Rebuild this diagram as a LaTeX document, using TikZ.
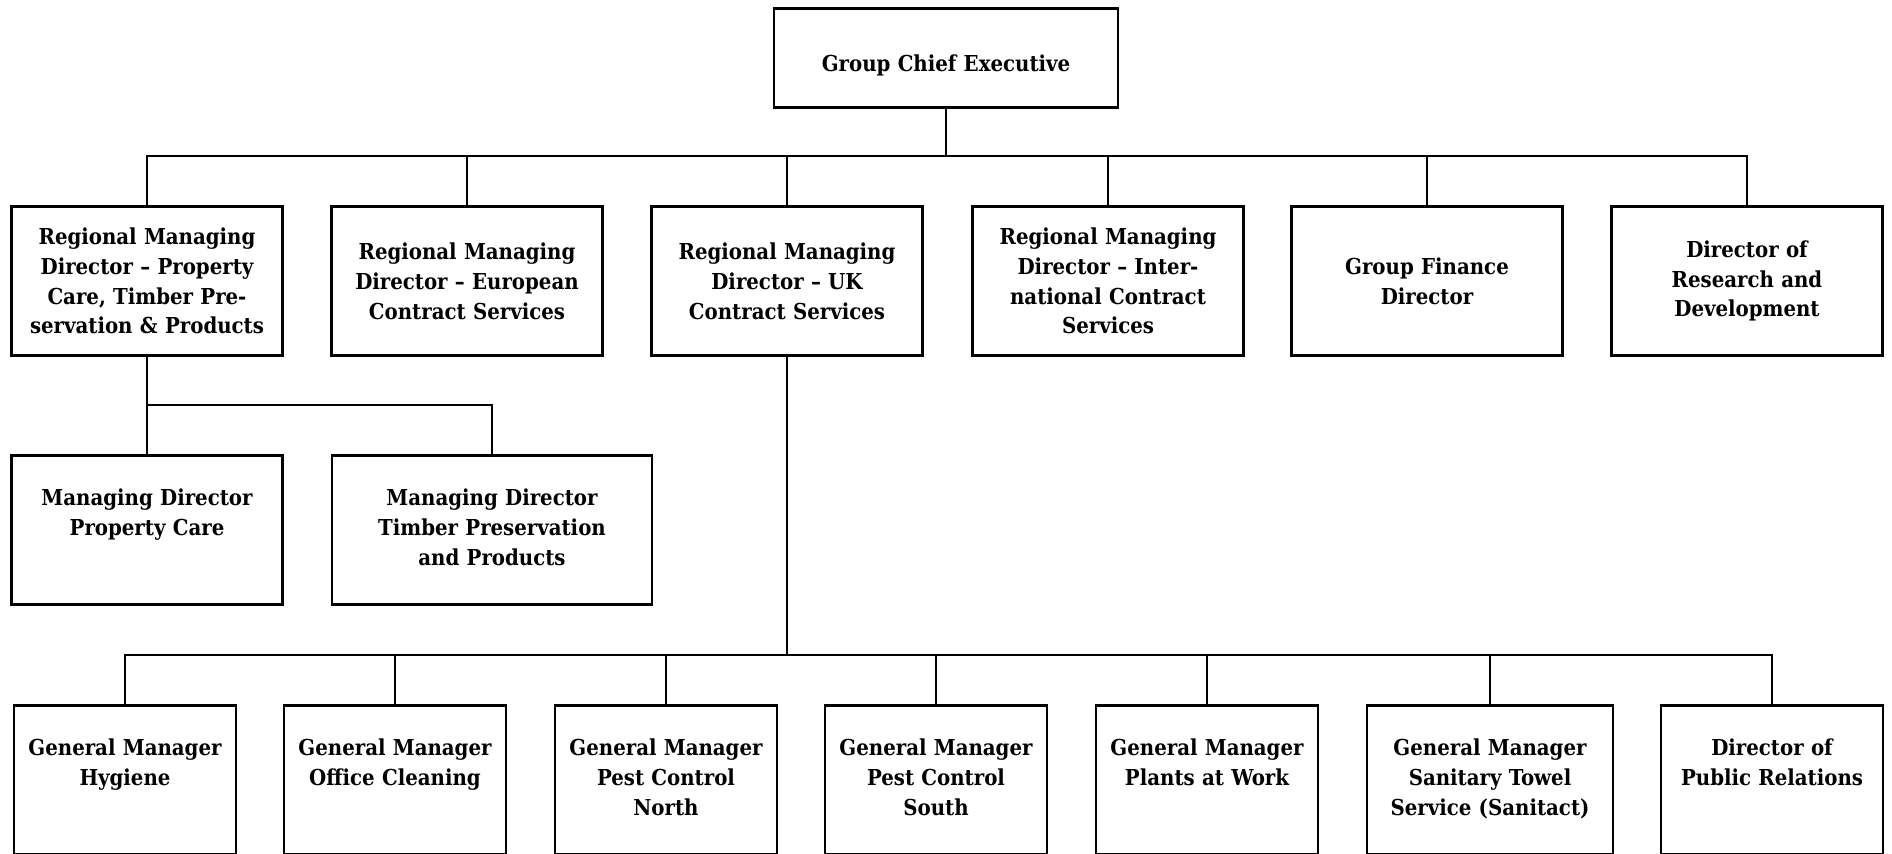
\documentclass[tikz,border=0pt]{standalone}
\usepackage{fontspec}
\setmainfont{DejaVuSerifCondensed-Bold.ttf}

\begin{document}
\begin{tikzpicture}[x=0.02cm,y=-0.02cm]
\tikzstyle{chief} = [rectangle, draw, line width=1.5pt, text width=6.88cm, align=center,
text height=1.26cm, text depth=0.72cm, inner sep=0pt, anchor=north, font=\fontsize{12.5}{17}\selectfont]
\tikzstyle{director} = [rectangle, draw, line width=1.5pt, text width=5.2cm, align=center,
minimum width=5.42cm, minimum height=2.98cm, inner sep=0pt, font=\fontsize{12.5}{17}\selectfont]
\tikzstyle{manager} = [rectangle, draw, line width=1.5pt, text width=4.44cm, align=center,
text height=1.0cm, text depth=1.98cm, inner sep=0pt, anchor=north, font=\fontsize{12.5}{17}\selectfont]
\tikzstyle{wire} = [draw, line width=1.5pt]
\useasboundingbox (0,0) rectangle (1892,853);
% top
\node [chief] (gce) at (946,7) {Group Chief Executive};
% row 1
\node [director] (rmdPTP) at (147,281) {Regional Managing\\Director -- Property\\Care, Timber Pre-\\servation \& Products};
\node [director] (rmdECS) at (467,281) {Regional Managing\\Director -- European\\Contract Services};
\node [director] (rmdUK) at (787,281) {Regional Managing\\Director -- UK\\Contract Services};
\node [director] (rmdICS) at (1108,281) {Regional Managing\\Director -- Inter-\\national Contract\\Services};
\node [director] (gfd) at (1427,281) {Group Finance\\Director};
\node [director] (drd) at (1747,281) {Director of\\Research and\\Development};
% row 2
\node [manager, text width=5.42cm] (mdPC) at (147,454) {Managing Director\\Property Care};
\node [manager, text width=6.4cm] (mdTP) at (492,454) {Managing Director\\Timber Preservation\\and Products};
% row 3
\node [manager] (gmHY) at (125,704) {General Manager\\Hygiene};
\node [manager] (gmOC) at (395,704) {General Manager\\Office Cleaning};
\node [manager] (gmPN) at (666,704) {General Manager\\Pest Control\\North};
\node [manager] (gmPS) at (936,704) {General Manager\\Pest Control\\South};
\node [manager] (gmPW) at (1207,704) {General Manager\\Plants at Work};
\node [manager, text width=4.92cm] (gmST) at (1490,704) {General Manager\\Sanitary Towel\\Service (Sanitact)};
\node [manager] (dPR) at (1772,704) {Director of\\Public Relations};
% buses
\coordinate (bus1) at (0,156);
\coordinate (bus2) at (0,405);
\coordinate (bus3) at (0,655);
\foreach \n in {rmdPTP,rmdECS,rmdUK,rmdICS,gfd,drd}
  \draw [wire] (gce.south) |- (bus1 -| \n.north) -- (\n.north);
\foreach \n in {mdPC,mdTP}
  \draw [wire] (rmdPTP.south) |- (bus2 -| \n.north) -- (\n.north);
\foreach \n in {gmHY,gmOC,gmPN,gmPS,gmPW,gmST,dPR}
  \draw [wire] (rmdUK.south) |- (bus3 -| \n.north) -- (\n.north);
\end{tikzpicture}
\end{document}
